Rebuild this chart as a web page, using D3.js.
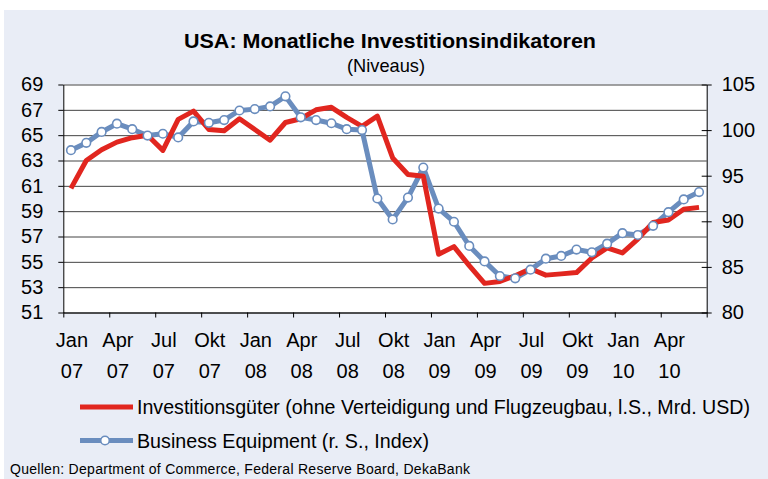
<!DOCTYPE html>
<html>
<head>
<meta charset="utf-8">
<script src="https://cdn.jsdelivr.net/npm/d3@7"></script>
<style>
  body { margin: 0; background: #fff; }
  svg { display: block; font-family: "Liberation Sans", Arial, sans-serif; }
  .tick-label { font-size: 20px; fill: #000; }
  .grid line { stroke: #444; stroke-width: 1; }
</style>
</head>
<body>
<svg id="chart"></svg>
<script>
// months Jan 07 .. Jun 10
const months = [
  'Jan 07','Feb 07','Mrz 07','Apr 07','Mai 07','Jun 07','Jul 07','Aug 07','Sep 07','Okt 07','Nov 07','Dez 07',
  'Jan 08','Feb 08','Mrz 08','Apr 08','Mai 08','Jun 08','Jul 08','Aug 08','Sep 08','Okt 08','Nov 08','Dez 08',
  'Jan 09','Feb 09','Mrz 09','Apr 09','Mai 09','Jun 09','Jul 09','Aug 09','Sep 09','Okt 09','Nov 09','Dez 09',
  'Jan 10','Feb 10','Mrz 10','Apr 10','Mai 10','Jun 10'
];

// Investitionsgüter, Mrd. USD (left axis)
const investGoods = [
  60.8, 63.0, 63.85, 64.45, 64.8, 65.0, 63.8, 66.25, 66.9, 65.45, 65.35, 66.3,
  65.45, 64.6, 66.0, 66.3, 67.0, 67.2, 66.4, 65.7, 66.5, 63.2, 61.9, 61.75,
  55.6, 56.2, 54.7, 53.3, 53.45, 53.9, 54.45, 53.95, 54.05, 54.15, 55.3, 56.1,
  55.7, 56.8, 58.1, 58.3, 59.15, 59.3
];

// Business Equipment, Index (right axis)
const businessEquip = [
  97.8, 98.6, 99.8, 100.7, 100.1, 99.4, 99.6, 99.2, 100.95, 100.8, 101.1, 102.15,
  102.3, 102.6, 103.7, 101.4, 101.1, 100.75, 100.1, 100.0, 92.5, 90.2, 92.6, 95.9,
  91.4, 89.95, 87.3, 85.6, 84.0, 83.75, 84.7, 85.9, 86.2, 86.9, 86.6, 87.55,
  88.7, 88.5, 89.5, 91.0, 92.4, 93.2
];

const leftTicks = [51, 53, 55, 57, 59, 61, 63, 65, 67, 69];
const rightTicks = [80, 85, 90, 95, 100, 105];

const titleText = 'USA: Monatliche Investitionsindikatoren';
const subtitleText = '(Niveaus)';
const legendLabels = [
  'Investitionsgüter (ohne Verteidigung und Flugzeugbau, l.S., Mrd. USD)',
  'Business Equipment (r. S., Index)'
];
const sourceText = 'Quellen:  Department of Commerce, Federal Reserve Board, DekaBank';

const W = 768, H = 479;
const plot = {left: 63.3, right: 706.7, top: 84.5, bottom: 312.5};
const red = '#e1261f', blue = '#6a8dbe';

const svg = d3.select('#chart').attr('width', W).attr('height', H);

// panel background
svg.append('rect')
    .attr('x', 4).attr('y', 10)
    .attr('width', W - 4).attr('height', H - 10)
    .attr('fill', '#e9edf6');

svg.append('rect')
    .attr('x', plot.left).attr('y', plot.top)
    .attr('width', plot.right - plot.left).attr('height', plot.bottom - plot.top)
    .attr('fill', '#fff');

// title
svg.append('text')
    .attr('x', 390).attr('y', 48)
    .attr('text-anchor', 'middle')
    .attr('textLength', 412).attr('lengthAdjust', 'spacingAndGlyphs')
    .style('font-size', '21px').style('font-weight', 'bold')
    .text(titleText);

svg.append('text')
    .attr('x', 386).attr('y', 72)
    .attr('text-anchor', 'middle')
    .attr('textLength', 78).attr('lengthAdjust', 'spacingAndGlyphs')
    .style('font-size', '19px')
    .text(subtitleText);

// scales
const xScale = d3.scaleLinear()
    .domain([0, months.length])
    .range([plot.left, plot.right]);

const yLeft = d3.scaleLinear()
    .domain([d3.min(leftTicks), d3.max(leftTicks)])
    .range([plot.bottom, plot.top]);

const yRight = d3.scaleLinear()
    .domain([d3.min(rightTicks), d3.max(rightTicks)])
    .range([plot.bottom, plot.top]);

const xPos = i => xScale(i + 0.5);

// gridlines
svg.append('g')
    .attr('class', 'grid')
    .attr('transform', `translate(${plot.left},0)`)
    .call(d3.axisLeft(yLeft).tickValues(leftTicks).tickSize(-(plot.right - plot.left)).tickFormat(''))
    .call(g => g.select('.domain').remove());

// left axis
const leftAxis = svg.append('g')
    .attr('transform', `translate(${plot.left},0)`)
    .call(d3.axisLeft(yLeft).tickValues(leftTicks).tickSize(5).tickSizeOuter(0).tickPadding(15));
leftAxis.selectAll('text').attr('class', 'tick-label').style('font-family', null);

// right axis
const rightAxis = svg.append('g')
    .attr('transform', `translate(${plot.right},0)`)
    .call(d3.axisRight(yRight).tickValues(rightTicks).tickSize(5).tickSizeOuter(0).tickPadding(10));
rightAxis.selectAll('.tick line').attr('x1', -5);
rightAxis.selectAll('text').attr('class', 'tick-label').style('font-family', null);

// bottom axis, ticks every 3 months
const quarterTicks = d3.range(0, months.length + 1, 3);
svg.append('g')
    .attr('transform', `translate(0,${plot.bottom})`)
    .call(d3.axisBottom(xScale).tickValues(quarterTicks).tickSize(5).tickSizeOuter(0).tickFormat(''));

svg.selectAll('.domain, .tick line').attr('stroke', '#000');
svg.selectAll('.grid line').attr('stroke', '#444');

// x labels (two lines)
const labelIdx = months.map((m, i) => i).filter(i => i % 3 === 0);
const xLabels = svg.append('g').selectAll('text')
    .data(labelIdx)
    .join('text')
    .attr('class', 'tick-label')
    .attr('text-anchor', 'middle')
    .attr('x', i => xPos(i));
xLabels.append('tspan').attr('x', i => xPos(i) + 1).attr('y', 347).text(i => months[i].split(' ')[0]);
xLabels.append('tspan').attr('x', i => xPos(i) + 1).attr('y', 378).text(i => months[i].split(' ')[1]);

// lines
const lineLeft = d3.line().x((d, i) => xPos(i)).y(d => yLeft(d));
const lineRight = d3.line().x((d, i) => xPos(i)).y(d => yRight(d));

svg.append('path')
    .datum(businessEquip)
    .attr('fill', 'none')
    .attr('stroke', blue)
    .attr('stroke-width', 5)
    .attr('stroke-linejoin', 'round')
    .attr('d', lineRight);

svg.append('path')
    .datum(investGoods)
    .attr('fill', 'none')
    .attr('stroke', red)
    .attr('stroke-width', 5)
    .attr('stroke-linejoin', 'round')
    .attr('d', lineLeft);

svg.append('g').selectAll('circle')
    .data(businessEquip)
    .join('circle')
    .attr('cx', (d, i) => xPos(i))
    .attr('cy', d => yRight(d))
    .attr('r', 4.3)
    .attr('fill', '#fff')
    .attr('stroke', blue)
    .attr('stroke-width', 1.6);

// legend
const legend = svg.append('g');
const legendRows = [
  {label: legendLabels[0], color: red, marker: false, y: 407, len: 613},
  {label: legendLabels[1], color: blue, marker: true, y: 440.5, len: 292}
];
legendRows.forEach(r => {
  legend.append('line')
      .attr('x1', 80).attr('x2', 133)
      .attr('y1', r.y).attr('y2', r.y)
      .attr('stroke', r.color).attr('stroke-width', 5);
  if (r.marker) {
    legend.append('circle')
        .attr('cx', 105).attr('cy', r.y).attr('r', 4.3)
        .attr('fill', '#fff').attr('stroke', r.color).attr('stroke-width', 1.6);
  }
  legend.append('text')
      .attr('x', 137).attr('y', r.y)
      .attr('dy', '0.35em')
      .attr('textLength', r.len).attr('lengthAdjust', 'spacingAndGlyphs')
      .style('font-size', '20px')
      .text(r.label);
});

// source
svg.append('text')
    .attr('x', 10).attr('y', 474)
    .attr('textLength', 460).attr('lengthAdjust', 'spacing')
    .style('font-size', '14px')
    .text(sourceText);
</script>
</body>
</html>
